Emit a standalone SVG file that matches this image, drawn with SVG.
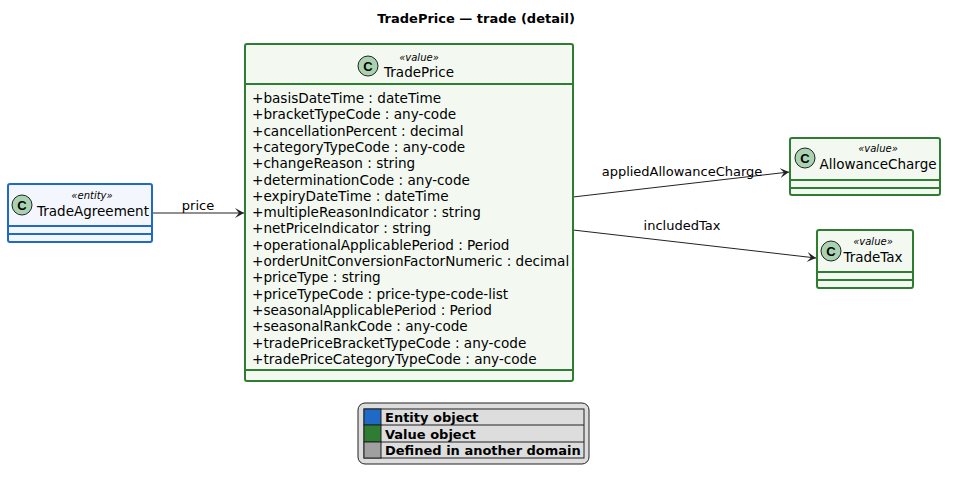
<svg xmlns="http://www.w3.org/2000/svg" width="953" height="483" viewBox="0 0 953 483">
<style>
text{font-family:"DejaVu Sans","Liberation Sans",sans-serif;fill:#000}
.t{font-size:13.5px}
.a{font-size:13px}
.at{font-size:13.6px}
.st{font-size:10px;font-style:italic}
.v{fill:#f3f9f1;stroke:#2f7d32;stroke-width:2}
.e{fill:#f3f7fd;stroke:#1f6ac7;stroke-width:2}
.vl{stroke:#2f7d32;stroke-width:2}
.el{stroke:#1f6ac7;stroke-width:2}
.ci{fill:#a9d3b0;stroke:#222;stroke-width:1}
.cl{font-size:13px;font-weight:bold;font-family:"Liberation Sans",sans-serif}
.c{stroke:#222;stroke-width:1;fill:none}
.lg{font-size:13px;font-weight:bold}
</style>
<defs><marker id="ar" markerWidth="10" markerHeight="10" refX="9" refY="5" orient="auto" markerUnits="userSpaceOnUse"><path d="M0,0 L9,5 L0,10 L4,5 Z" fill="#222"/></marker></defs>
<text x="476" y="23" text-anchor="middle" style="font-size:13px;font-weight:bold">TradePrice — trade (detail)</text>
<g id="connectors">
<line class="c" x1="152" y1="213" x2="244" y2="213" marker-end="url(#ar)"/>
<text x="198" y="210" text-anchor="middle" class="a">price</text>
<line class="c" x1="573" y1="197" x2="789" y2="172" marker-end="url(#ar)"/>
<text x="682" y="176" text-anchor="middle" class="a">appliedAllowanceCharge</text>
<line class="c" x1="573" y1="230" x2="816" y2="258" marker-end="url(#ar)"/>
<text x="682" y="230" text-anchor="middle" class="a">includedTax</text>
</g>
<g id="TradePrice">
<rect class="v" x="245" y="44" width="328" height="337" rx="2"/>
<line class="vl" x1="245" y1="84" x2="573" y2="84"/>
<line class="vl" x1="245" y1="370" x2="573" y2="370"/>
<circle class="ci" cx="368" cy="66" r="10"/><text x="368" y="71" text-anchor="middle" class="cl">C</text>
<text x="419" y="61" text-anchor="middle" class="st">«value»</text>
<text x="419" y="77" text-anchor="middle" class="t">TradePrice</text>
<g class="at">
<text x="252" y="103">+basisDateTime : dateTime</text>
<text x="252" y="119.3">+bracketTypeCode : any-code</text>
<text x="252" y="135.6">+cancellationPercent : decimal</text>
<text x="252" y="151.9">+categoryTypeCode : any-code</text>
<text x="252" y="168.2">+changeReason : string</text>
<text x="252" y="184.5">+determinationCode : any-code</text>
<text x="252" y="200.8">+expiryDateTime : dateTime</text>
<text x="252" y="217.1">+multipleReasonIndicator : string</text>
<text x="252" y="233.4">+netPriceIndicator : string</text>
<text x="252" y="249.7">+operationalApplicablePeriod : Period</text>
<text x="252" y="266">+orderUnitConversionFactorNumeric : decimal</text>
<text x="252" y="282.3">+priceType : string</text>
<text x="252" y="298.6">+priceTypeCode : price-type-code-list</text>
<text x="252" y="314.9">+seasonalApplicablePeriod : Period</text>
<text x="252" y="331.2">+seasonalRankCode : any-code</text>
<text x="252" y="347.5">+tradePriceBracketTypeCode : any-code</text>
<text x="252" y="363.8">+tradePriceCategoryTypeCode : any-code</text>
</g>
</g>
<g id="TradeAgreement">
<rect class="e" x="8" y="184" width="144" height="58" rx="2"/>
<line class="el" x1="8" y1="226" x2="152" y2="226"/>
<line class="el" x1="8" y1="234" x2="152" y2="234"/>
<circle class="ci" cx="22" cy="205" r="10"/><text x="22" y="210" text-anchor="middle" class="cl">C</text>
<text x="92" y="199" text-anchor="middle" class="st">«entity»</text>
<text x="93" y="216" text-anchor="middle" class="t">TradeAgreement</text>
</g>
<g id="AllowanceCharge">
<rect class="v" x="790" y="138" width="150" height="57" rx="2"/>
<line class="vl" x1="790" y1="180" x2="940" y2="180"/>
<line class="vl" x1="790" y1="188" x2="940" y2="188"/>
<circle class="ci" cx="805" cy="158" r="10"/><text x="805" y="163" text-anchor="middle" class="cl">C</text>
<text x="878" y="152" text-anchor="middle" class="st">«value»</text>
<text x="878" y="169" text-anchor="middle" class="t">AllowanceCharge</text>
</g>
<g id="TradeTax">
<rect class="v" x="817" y="230" width="96" height="58" rx="2"/>
<line class="vl" x1="817" y1="272" x2="913" y2="272"/>
<line class="vl" x1="817" y1="280" x2="913" y2="280"/>
<circle class="ci" cx="831" cy="251" r="10"/><text x="831" y="256" text-anchor="middle" class="cl">C</text>
<text x="873" y="245" text-anchor="middle" class="st">«value»</text>
<text x="873" y="262" text-anchor="middle" class="t">TradeTax</text>
</g>
<g id="legend">
<rect x="358" y="403" width="231" height="61" rx="7" fill="#dddddd" stroke="#222" stroke-width="1"/>
<rect x="364" y="409" width="220" height="49" fill="#dddddd" stroke="#222" stroke-width="1"/>
<rect x="364" y="409" width="17" height="16" fill="#1f6ac7" stroke="#222" stroke-width="1"/>
<rect x="364" y="425" width="17" height="17" fill="#2f7d32" stroke="#222" stroke-width="1"/>
<rect x="364" y="442" width="17" height="16" fill="#a0a0a0" stroke="#222" stroke-width="1"/>
<line x1="381" y1="425" x2="584" y2="425" stroke="#222"/>
<line x1="381" y1="442" x2="584" y2="442" stroke="#222"/>
<text x="385" y="422" class="lg">Entity object</text>
<text x="385" y="439" class="lg">Value object</text>
<text x="385" y="455" class="lg">Defined in another domain</text>
</g>
</svg>
